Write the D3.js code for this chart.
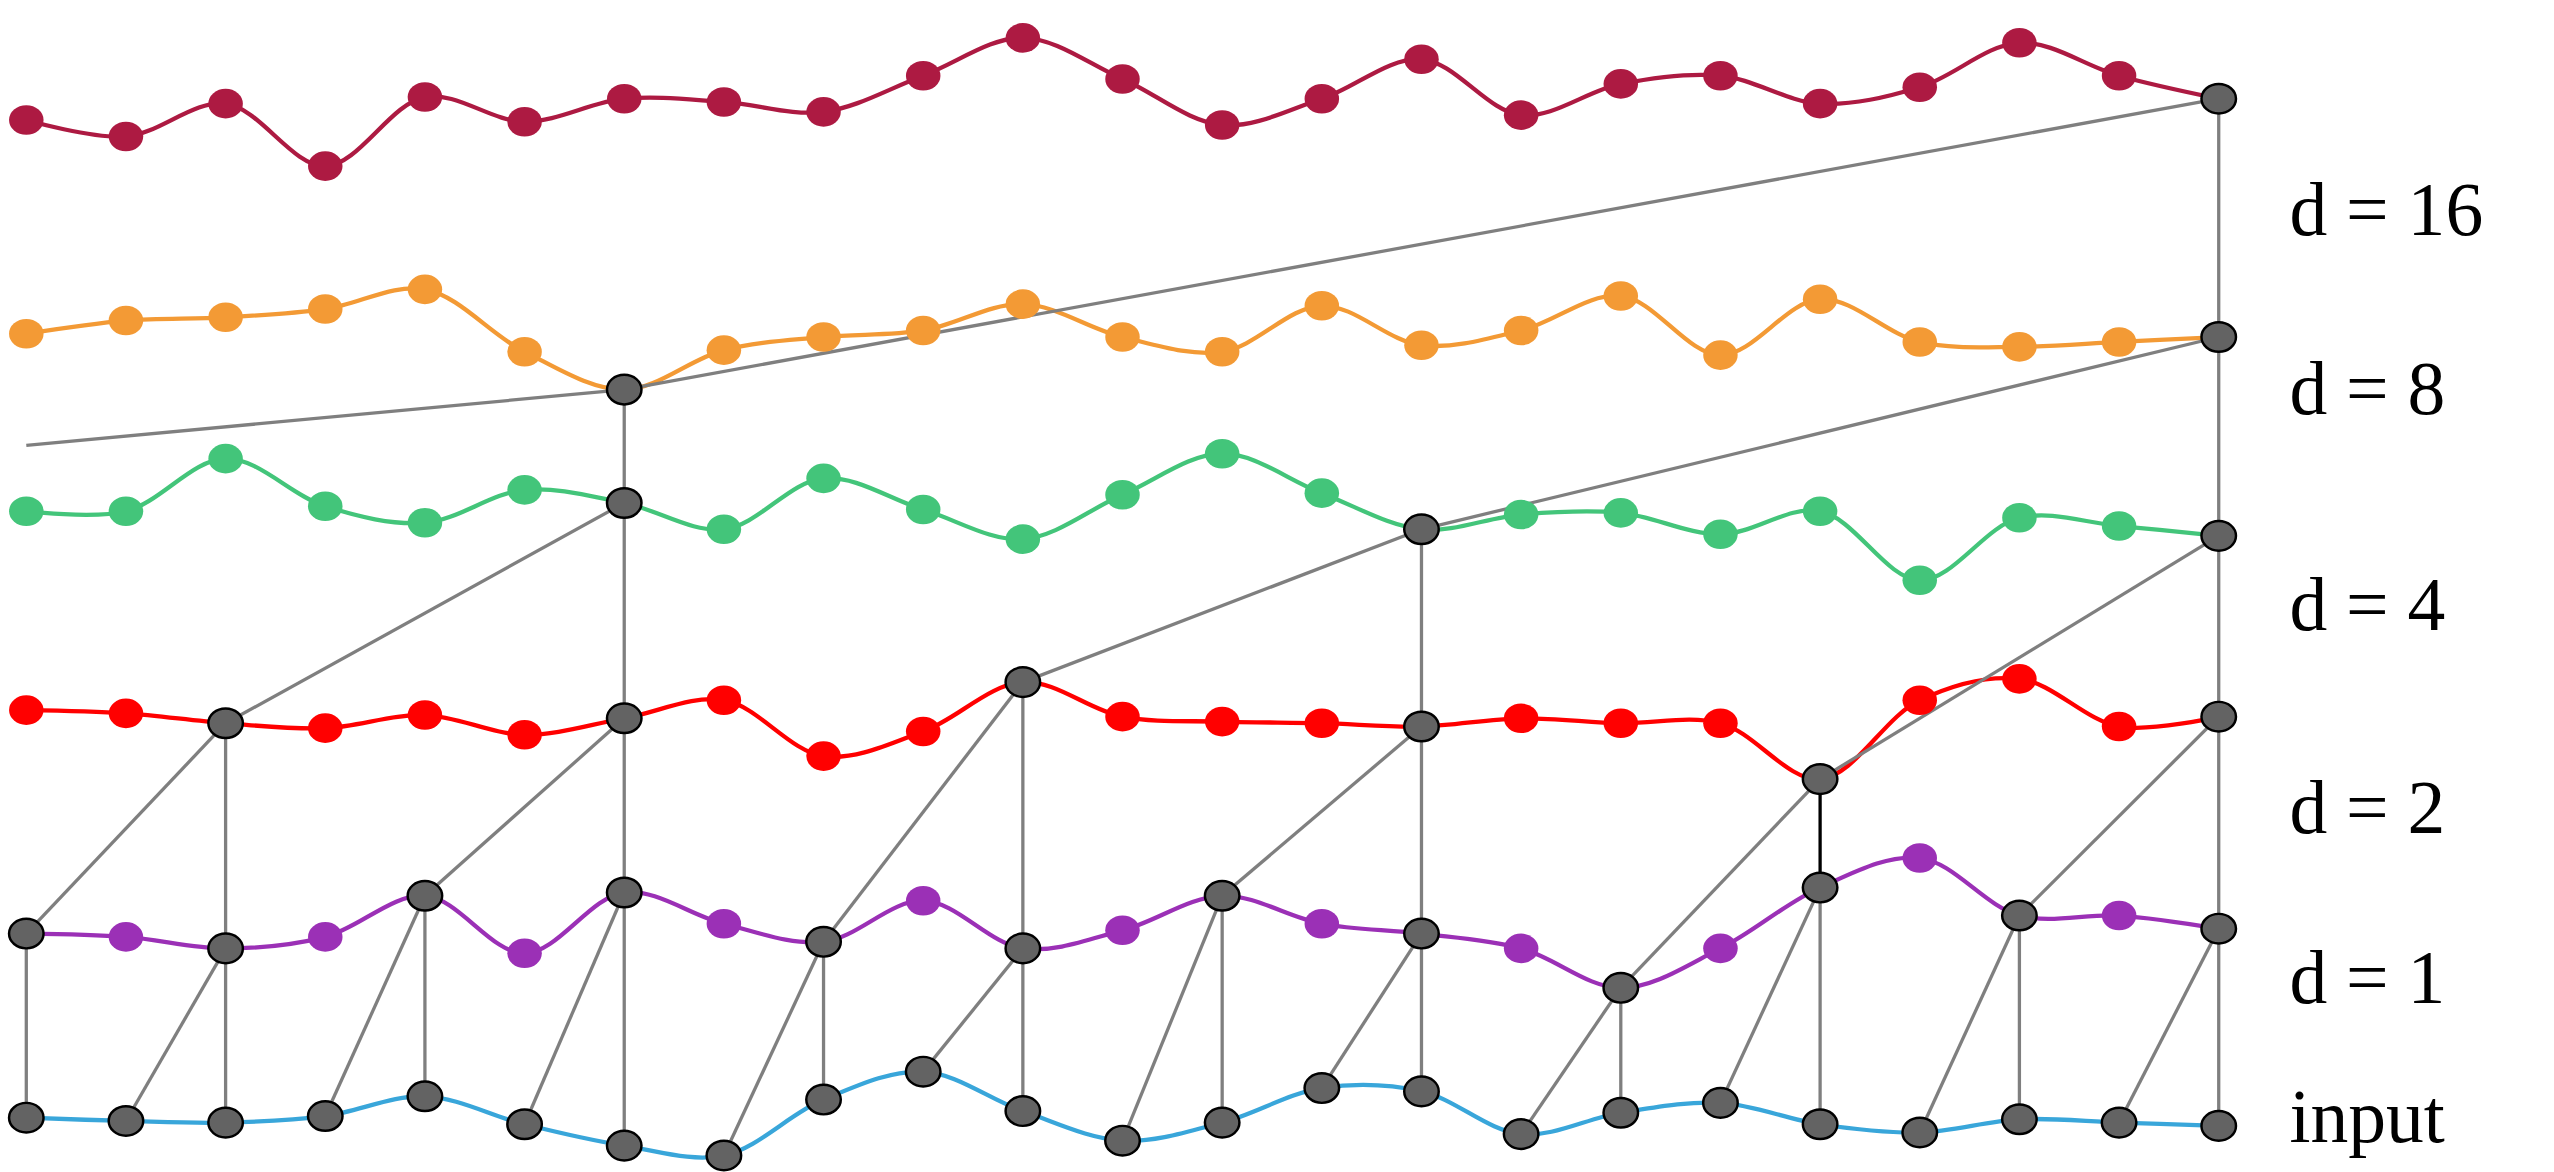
<html>
<script src="https://d3js.org/d3.v7.min.js"></script>
<body style="margin:0;background:#fff">
<script>
// layer names, dilations and colours
var labels = ['input', 'd = 1', 'd = 2', 'd = 4', 'd = 8', 'd = 16']
var dilations = [0, 1, 2, 4, 8, 16]
var colors = ['#39a6da', '#9b30b6', '#ff0000', '#43c57a', '#f39a35', '#ad1a42']
var labelY = [680, 595, 492, 368, 237, 128]
var leftEdgeY = 271

// value at each of the 23 time steps, per layer (px-ish units)
var inputVals = [680, 682, 683, 679, 667, 684, 697, 703, 669, 652, 676, 694, 683, 662, 664, 690, 677, 671, 684, 689, 681, 683, 685]
var d1Vals = [568, 570, 577, 570, 545, 580, 543, 562, 573, 548, 577, 566, 545, 562, 568, 577, 601, 577, 540, 522, 557, 557, 565]
var d2Vals = [432, 434, 440, 443, 435, 447, 437, 426, 460, 445, 415, 436, 439, 440, 442, 437, 440, 440, 474, 426, 413, 442, 436]
var d4Vals = [311, 311, 279, 308, 318, 298, 306, 322, 291, 310, 328, 301, 276, 300, 322, 313, 312, 325, 311, 353, 315, 320, 326]
var d8Vals = [203, 195, 193, 188, 176, 214, 237, 213, 205, 201, 185, 205, 214, 186, 210, 201, 180, 216, 182, 208, 211, 208, 205]
var d16Vals = [73, 83, 63, 101, 59, 74, 60, 62, 68, 46, 23, 48, 76, 60, 36, 70, 51, 46, 63, 53, 26, 46, 60]
var layers = [inputVals, d1Vals, d2Vals, d4Vals, d8Vals, d16Vals]

var W = 1554, H = 713
var svg = d3.select('body').append('svg').attr('width', 2554).attr('height', 1172)
    .attr('viewBox', `0 0 ${W} ${H}`)

var x = d3.scaleLinear().domain([0, 22]).range([16, 1350])
var y = d3.scaleLinear().domain([0, H]).range([0, H])

// which nodes feed the last output
var active = layers.map(function(){ return new Set() })
var edges = []
function visit(r, i) {
    if (active[r].has(i)) return
    active[r].add(i)
    if (r == 0) return
    var d = dilations[r]
    edges.push([r, i, i])
    edges.push([r, i, i - d])
    visit(r - 1, i)
    if (i - d >= 0) visit(r - 1, i - d)
}
visit(5, 22)

var line = d3.line().x(function(d, i){ return x(i) }).y(function(d){ return y(d) }).curve(d3.curveCatmullRom)
layers.forEach(function(vals, r) {
    svg.append('path').attr('d', line(vals)).attr('fill', 'none')
        .attr('stroke', colors[r]).attr('stroke-width', 2.6)
})

edges.forEach(function(e) {
    var r = e[0], x1 = x(e[1]), y1 = y(layers[r][e[1]])
    var x2, y2
    if (e[2] >= 0) { x2 = x(e[2]); y2 = y(layers[r - 1][e[2]]) }
    else {
        // input from before the window: run off to the left edge
        if (x1 - x(0) < 1) return
        x2 = x(0); y2 = y(leftEdgeY)
    }
    svg.append('line').attr('x1', x1).attr('y1', y1).attr('x2', x2).attr('y2', y2)
        .attr('stroke', (r == 2 && e[1] == 18 && e[2] == 18) ? '#000' : '#7f7f7f').attr('stroke-width', 2)
})

layers.forEach(function(vals, r) {
    svg.append('g').selectAll('ellipse').data(vals).enter().append('ellipse')
        .attr('cx', function(d, i){ return x(i) }).attr('cy', function(d){ return y(d) })
        .attr('rx', 10.5).attr('ry', 9)
        .attr('fill', function(d, i){ return active[r].has(i) ? '#636363' : colors[r] })
        .attr('stroke', function(d, i){ return active[r].has(i) ? '#000' : 'none' })
        .attr('stroke-width', 1.5)
})

svg.selectAll('text.lab').data(labels).enter().append('text')
    .attr('x', 1393).attr('y', function(d, i){ return labelY[i] + 15 })
    .attr('font-family', 'Liberation Serif').attr('font-size', 46)
    .text(function(d){ return d })
</script>
</body>
</html>
